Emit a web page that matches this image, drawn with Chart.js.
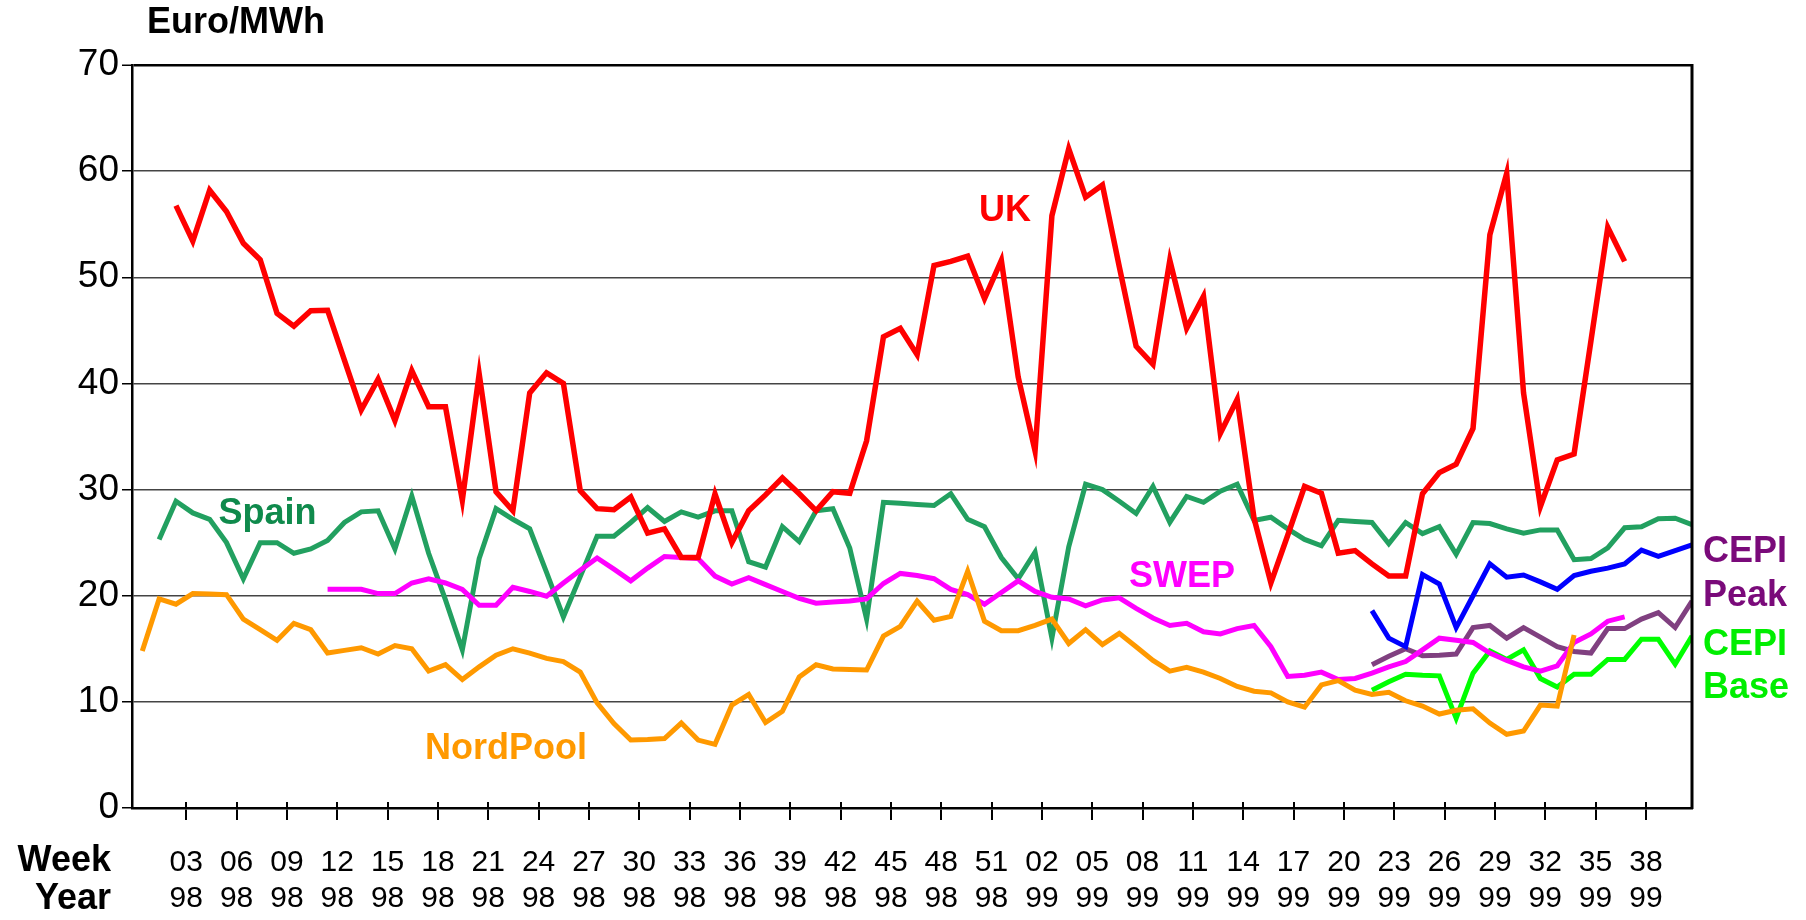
<!DOCTYPE html>
<html><head><meta charset="utf-8">
<script src="https://cdn.jsdelivr.net/npm/chart.js@4.4.0/dist/chart.umd.min.js"></script>
<style>html,body{margin:0;padding:0;background:#fff;overflow:hidden}</style>
</head><body>
<canvas id="c" width="1806" height="920" style="width:1806px;height:920px;display:block"></canvas>
<script>
// ---- tick labels (week / year) ----
const weekTicks = ['03','06','09','12','15','18','21','24','27','30','33','36','39','42','45','48','51',
                   '02','05','08','11','14','17','20','23','26','29','32','35','38'];
const yearTicks = ['98','98','98','98','98','98','98','98','98','98','98','98','98','98','98','98','98',
                   '99','99','99','99','99','99','99','99','99','99','99','99','99'];

// ---- series: first week index (0 = week 52 of 1997 ... 53 = week 01 of 1999) and weekly values ----
const ukStart = 2;
const ukValues = [56.75,53.4,58.2,56.2,53.2,51.65,46.6,45.4,46.85,46.9,
  42.2,37.5,40.4,36.5,41.2,37.8,37.8,29.0,40.9,29.8,
  28.0,39.1,41.0,40.0,29.9,28.2,28.1,29.3,25.9,26.3,
  23.6,23.6,29.6,25.0,28.0,29.5,31.1,29.6,28.0,29.8,
  29.65,34.6,44.4,45.2,42.7,51.1,51.5,52.0,48.0,51.6,
  40.6,33.65,55.8,62.1,57.55,58.7,51.0,43.5,41.8,51.6,
  45.2,48.2,35.3,38.5,27.3,21.2,25.7,30.3,29.65,24.0,
  24.25,23.0,21.85,21.85,29.6,31.6,32.4,35.75,54.0,59.8,
  39.1,28.4,32.8,33.35,44.0,54.7,51.5];

const spainStart = 1;
const spainValues = [25.3,28.9,27.8,27.2,25.0,21.6,25.0,25.0,24.0,24.4,
  25.2,26.9,27.9,28.0,24.4,29.4,24.0,19.6,14.9,23.5,
  28.2,27.2,26.3,22.2,18.0,21.8,25.6,25.6,26.9,28.3,
  27.0,27.9,27.4,28.0,28.0,23.2,22.7,26.5,25.1,28.0,
  28.2,24.5,17.8,28.8,28.7,28.6,28.5,29.6,27.2,26.5,
  23.6,21.6,24.1,16.0,24.6,30.5,30.0,28.9,27.75,30.3,
  26.9,29.35,28.8,29.85,30.5,27.1,27.4,26.3,25.3,24.7,
  27.1,27.0,26.9,24.9,26.9,25.85,26.5,23.9,26.9,26.8,
  26.3,25.9,26.2,26.2,23.4,23.5,24.5,26.4,26.5,27.25,
  27.3,26.7];

const swepStart = 11;
const swepValues = [20.6,20.6,20.6,20.2,20.2,21.2,21.6,21.2,20.6,19.1,
  19.1,20.8,20.4,19.95,21.2,22.4,23.55,22.5,21.4,22.6,
  23.7,23.6,23.5,21.85,21.1,21.7,21.05,20.4,19.75,19.3,
  19.4,19.5,19.7,21.15,22.1,21.9,21.6,20.6,20.1,19.2,
  20.3,21.4,20.4,19.85,19.7,19.05,19.6,19.8,18.8,17.9,
  17.2,17.4,16.6,16.4,16.9,17.2,15.2,12.4,12.5,12.8,
  12.1,12.2,12.7,13.3,13.8,14.9,16.0,15.8,15.6,14.6,
  13.9,13.3,12.9,13.4,15.6,16.4,17.6,18.0];

const nordStart = 0;
const nordValues = [14.8,19.7,19.2,20.2,20.15,20.1,17.8,16.8,15.8,17.4,
  16.8,14.6,14.85,15.1,14.5,15.3,15.0,12.9,13.5,12.1,
  13.3,14.4,15.0,14.6,14.1,13.8,12.8,9.9,7.95,6.4,
  6.45,6.55,8.0,6.4,6.0,9.7,10.7,8.05,9.1,12.35,
  13.5,13.1,13.05,13.0,16.2,17.1,19.5,17.7,18.05,22.3,
  17.6,16.7,16.7,17.2,17.8,15.5,16.8,15.4,16.45,15.2,
  13.9,12.9,13.25,12.8,12.2,11.45,11.0,10.85,10.0,9.5,
  11.6,12.0,11.1,10.7,10.9,10.1,9.6,8.85,9.2,9.35,
  8.0,6.95,7.25,9.7,9.6,16.3];

const blueStart = 73;
const blueValues = [18.6,16.0,15.2,22.0,21.1,17.0,20.0,23.0,21.75,21.95,
  21.3,20.6,21.9,22.3,22.6,23.0,24.3,23.7,24.25,24.8];

const cepiPeakStart = 73;
const cepiPeakValues = [13.5,14.3,15.0,14.35,14.4,14.5,17.0,17.2,16.0,17.0,
  16.1,15.2,14.75,14.6,16.9,16.9,17.8,18.4,17.0,19.5];

const cepiBaseStart = 73;
const cepiBaseValues = [11.1,11.9,12.6,12.5,12.45,8.45,12.7,14.8,14.0,14.9,
  12.2,11.4,12.6,12.6,14.0,14.0,15.9,15.9,13.55,16.2];

function series(start, vals){ return vals.map((v,i)=>({x:start+i, y:v})); }

const SANS = "'Liberation Sans', Arial, Helvetica, sans-serif";
const NARROW = "'Liberation Sans Narrow', 'Arial Narrow', 'Liberation Sans', Arial, sans-serif";

const overlay = {
  id:'overlay',
  afterDraw(chart){
    const {ctx, chartArea:a, scales:{x, y}} = chart;
    ctx.save();
    // right frame
    ctx.strokeStyle = '#000'; ctx.lineWidth = 3;
    ctx.beginPath(); ctx.moveTo(a.right, a.top - 1); ctx.lineTo(a.right, a.bottom + 1); ctx.stroke();
    // inner part of the x tick marks
    ctx.lineWidth = 2;
    x.ticks.forEach(t => {
      const px = Math.round(x.getPixelForValue(t.value));
      ctx.beginPath(); ctx.moveTo(px, a.bottom); ctx.lineTo(px, a.bottom - 6); ctx.stroke();
    });
    // texts
    ctx.font = 'bold 36px ' + SANS;
    ctx.textBaseline = 'middle';
    ctx.fillStyle = '#000';
    ctx.textAlign = 'left';
    ctx.fillText('Euro/MWh', 147, 23);
    ctx.textAlign = 'right';
    ctx.fillText('Week', 111, 861);
    ctx.fillText('Year', 111, 899);

    ctx.textAlign = 'center';
    const lbl = (t, wx, v, col) => { ctx.fillStyle = col; ctx.fillText(t, x.getPixelForValue(wx), y.getPixelForValue(v)); };
    lbl('UK', 51.22, 56.25, '#ff0000');
    lbl('Spain', 7.43, 27.7, '#0f8a4c');
    lbl('SWEP', 61.72, 21.76, '#ff00ff');
    lbl('NordPool', 21.59, 5.52, '#ff9900');

    ctx.textAlign = 'left';
    const rx = a.right + 11;
    ctx.fillStyle = '#7a0a7a';
    ctx.fillText('CEPI', rx, y.getPixelForValue(24.1));
    ctx.fillText('Peak', rx, y.getPixelForValue(19.97));
    ctx.fillStyle = '#00ee00';
    ctx.fillText('CEPI', rx, y.getPixelForValue(15.36));
    ctx.fillText('Base', rx, y.getPixelForValue(11.26));
    ctx.restore();
  }
};

const ds = (label, start, vals, color, w) => ({
  label, data: series(start, vals), borderColor: color, backgroundColor: color,
  borderWidth: w || 5, pointRadius: 0, fill: false, tension: 0,
  borderJoinStyle: 'miter', borderCapStyle: 'butt'
});

new Chart(document.getElementById('c'), {
  type: 'line',
  data: { datasets: [
    ds('UK', ukStart, ukValues, '#ff0000', 5.5),
    ds('NordPool', nordStart, nordValues, '#ff9900', 5),
    ds('SWEP', swepStart, swepValues, '#ff00ff', 5),
    ds('Spain', spainStart, spainValues, '#22a060', 5),
    ds('Blue', blueStart, blueValues, '#0000ff', 5),
    ds('CEPI Base', cepiBaseStart, cepiBaseValues, '#00ff00', 5),
    ds('CEPI Peak', cepiPeakStart, cepiPeakValues, '#804080', 5)
  ]},
  options: {
    responsive: false, animation: false, devicePixelRatio: 1,
    layout: { padding: { top: 65, right: 114, bottom: 0, left: 0 } },
    plugins: { legend: { display: false }, tooltip: { enabled: false } },
    scales: {
      x: {
        type: 'linear', min: -0.61, max: 92,
        afterBuildTicks: s => { s.ticks = weekTicks.map((w, k) => ({ value: 2.61 + 2.988 * k })); },
        afterFit: s => { s.height = 112; },
        ticks: {
          autoSkip: false, maxRotation: 0, minRotation: 0, padding: 24, color: '#000',
          font: { family: NARROW, size: 30, lineHeight: 1.22 },
          callback: (v, i) => [weekTicks[i], yearTicks[i]]
        },
        grid: { drawOnChartArea: false, drawTicks: true, tickLength: 12, color: '#000', lineWidth: 2 },
        border: { display: true, color: '#000', width: 2.5 }
      },
      y: {
        min: 0, max: 70,
        afterFit: s => { s.width = 132; },
        ticks: { stepSize: 10, padding: 3, color: '#000', font: { family: SANS, size: 37 } },
        grid: {
          color: c => (c.tick && c.tick.value === 70) ? '#000' : '#444',
          lineWidth: c => (c.tick && c.tick.value === 70) ? 2.5 : 1.5,
          tickLength: 10, tickColor: '#000', tickWidth: 1.5
        },
        border: { display: true, color: '#000', width: 2.5 }
      }
    }
  },
  plugins: [overlay]
});
</script>
</body></html>
